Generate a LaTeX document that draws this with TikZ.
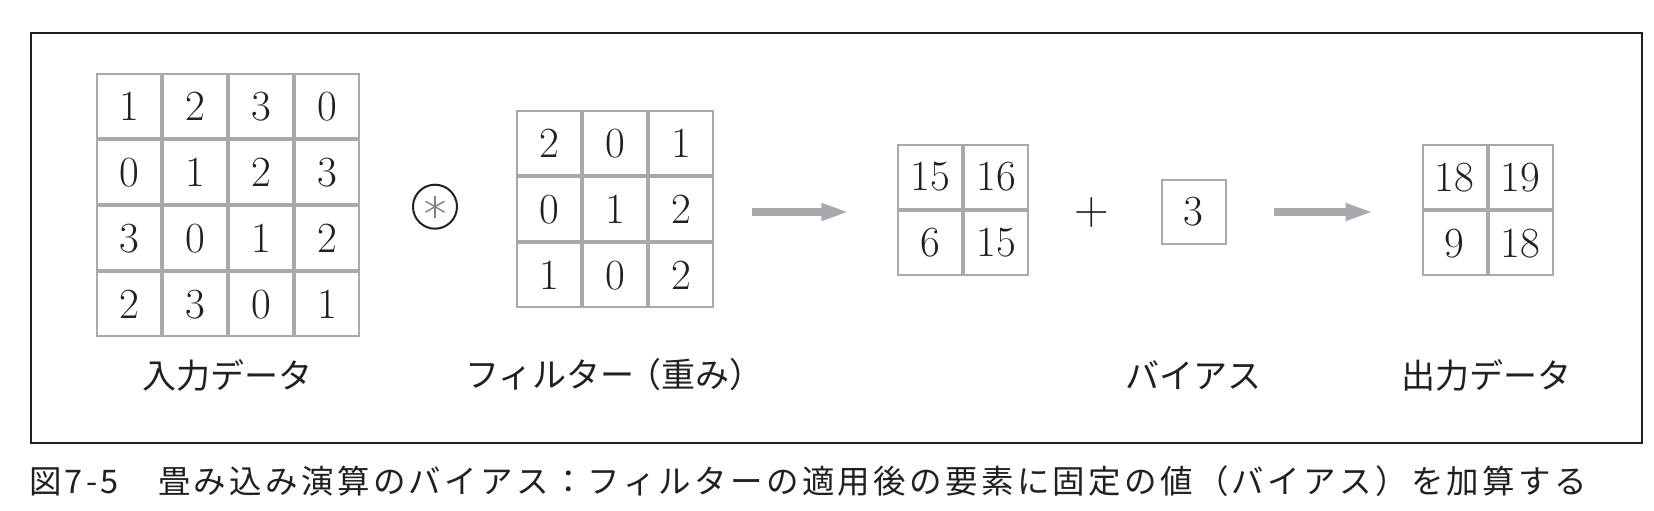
\documentclass[tikz,border=0pt]{standalone}
\usepackage{fontspec}
\newfontfamily\jp{Noto Sans CJK JP}
\newfontfamily\jpcap[LetterSpace=10.2]{Noto Sans CJK JP}
\usetikzlibrary{matrix,arrows.meta}
\definecolor{gridgray}{HTML}{A7A9AC}
\definecolor{framec}{HTML}{231F20}
\definecolor{astgray}{HTML}{808285}
\begin{document}
\begin{tikzpicture}[x=1pt,y=-1pt,
  cell/.style={draw=gridgray, line width=2pt, minimum size=64pt, inner sep=0pt, outer sep=0pt,
    anchor=center, text height=27.7pt, text depth=0pt,
    font=\fontsize{43}{50}\selectfont, text=framec},
  grid/.style={matrix of nodes, nodes={cell}, inner sep=0pt, outer sep=0pt, column sep=0pt, row sep=0pt},
  lbl/.style={font=\jp\fontsize{34}{40}\selectfont, inner sep=0pt, text=framec},
  arr/.style={draw=gridgray, line width=7.3pt, -{Triangle[length=28pt,width=16pt]}},
  ast/.style={draw=astgray, line width=1.4pt},
]
\useasboundingbox (0,0) rectangle (1654,511);
\fill[white] (0,0) rectangle (1654,511);
\draw[framec, line width=2pt] (30.7,32.7) rectangle (1641.7,443.3);

\matrix (in) [grid] at (228.3,205.3) {
  1 & 2 & 3 & 0 \\
  0 & 1 & 2 & 3 \\
  3 & 0 & 1 & 2 \\
  2 & 3 & 0 & 1 \\
};
\matrix (filt) [grid] at (615.3,209.3) {
  2 & 0 & 1 \\
  0 & 1 & 2 \\
  1 & 0 & 2 \\
};
\matrix (res) [grid] at (963.3,210) {
  15 & 16 \\
  6 & 15 \\
};
\node[cell] (bias) at (1193.7,211.5) {3};
\matrix (out) [grid] at (1487.5,210.3) {
  18 & 19 \\
  9 & 18 \\
};

\node[circle, draw=framec, line width=2pt, minimum size=44pt, inner sep=0pt] (conv) at (435,206.7) {};
\draw[ast] ([shift={(90:11)}]conv.center) -- ([shift={(270:11)}]conv.center);
\draw[ast] ([shift={(30:11)}]conv.center) -- ([shift={(210:11)}]conv.center);
\draw[ast] ([shift={(150:11)}]conv.center) -- ([shift={(330:11)}]conv.center);

\node[inner sep=0pt, font=\fontsize{48}{50}\selectfont, text=framec] (plus) at (1092,212.7) {+};

\draw[arr] ([xshift=38pt]filt.east |- 0,212) -- ([xshift=-48pt]res.west |- 0,212);
\draw[arr] ([xshift=48pt]bias.east |- 0,212) -- ([xshift=-48pt]out.west |- 0,212);

\node[lbl] (inl) at (227.5,375) {入力データ};
\node[lbl, anchor=west] (fl) at (465,375) {フィルター\hspace{-0.2em}（重み）};
\node[lbl] (bl) at (1193.3,375) {バイアス};
\node[lbl] (ol) at (1486.7,375) {出力データ};

\node[font=\jpcap\fontsize{32.5}{36}\selectfont, anchor=west, inner sep=0pt, text=framec] (cap) at (29,481)
  {図7-5　畳み込み演算のバイアス：フィルターの適用後の要素に固定の値（バイアス）を加算する};
\end{tikzpicture}
\end{document}
